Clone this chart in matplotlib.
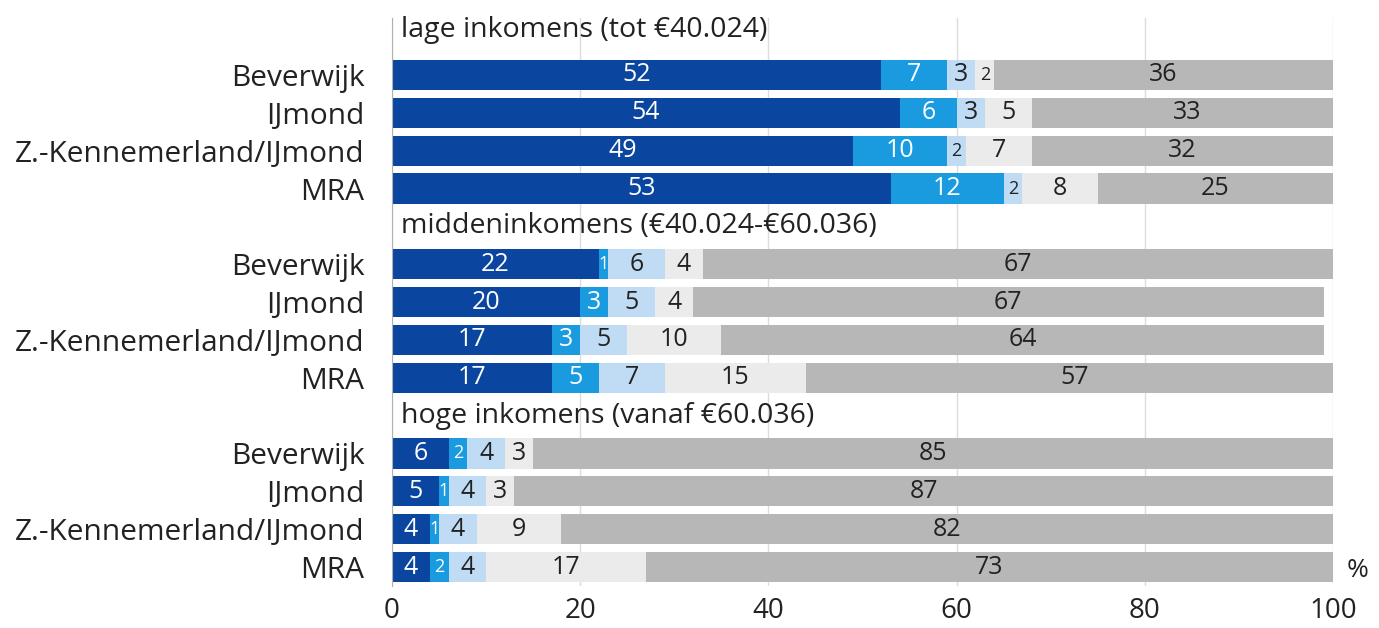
import matplotlib.pyplot as plt
import numpy as np

plt.rcParams['font.family'] = ['Open Sans', 'DejaVu Sans']

# income groups and regions
groepen = ["lage inkomens (tot €40.024)",
           "middeninkomens (€40.024-€60.036)",
           "hoge inkomens (vanaf €60.036)"]
regios = ["Beverwijk", "IJmond", "Z.-Kennemerland/IJmond", "MRA"]

# shares per segment (%), rows: Beverwijk, IJmond, Z.-Kennemerland/IJmond, MRA
seg1 = [[52, 54, 49, 53], [22, 20, 17, 17], [6, 5, 4, 4]]
seg2 = [[7, 6, 10, 12], [1, 3, 3, 5], [2, 1, 1, 2]]
seg3 = [[3, 3, 2, 2], [6, 5, 5, 7], [4, 4, 4, 4]]
seg4 = [[2, 5, 7, 8], [4, 4, 10, 15], [3, 3, 9, 17]]
seg5 = [[36, 33, 32, 25], [67, 67, 64, 57], [85, 87, 82, 73]]

kleuren = ["#0a46a0", "#1a9be0", "#bfdcf4", "#ebebeb", "#b7b7b7"]
tekstkleur = ["white", "white", "#222222", "#222222", "#222222"]
segmenten = [seg1, seg2, seg3, seg4, seg5]

fig = plt.figure(figsize=(13.79, 6.28), dpi=100)
ax = fig.add_axes([0.2843, 0.067, 0.6823, 0.904])

ylabels = []
ypos = []
kop_pos = []
slot = 0
for g, groep in enumerate(groepen):
    kop_pos.append(slot)
    slot += 1
    for r, regio in enumerate(regios):
        links = 0
        for s, seg in enumerate(segmenten):
            w = seg[g][r]
            ax.barh(slot, w, left=links, height=0.8, color=kleuren[s],
                    edgecolor="none", zorder=2)
            ax.text(links + w / 2, slot, str(w), ha="center", va="center",
                    color=tekstkleur[s], fontsize=18 if w >= 3 else 13, zorder=3)
            links += w
        ylabels.append(regio)
        ypos.append(slot)
        slot += 1

for i, (k, groep) in enumerate(zip(kop_pos, groepen)):
    ax.text(0.9, k - (0.2 if i == 0 else 0.0), groep, ha="left", va="center",
            fontsize=20.5, color="#222222")

ax.set_xlim(0, 100)
ax.set_ylim(slot - 0.5, -0.5)
ax.set_yticks(ypos)
ax.set_yticklabels(ylabels, fontsize=21.5, color="#222222")
ax.set_xticks([0, 20, 40, 60, 80, 100])
ax.set_xticklabels(["0", "20", "40", "60", "80", "100"], fontsize=20,
                   color="#222222")
ax.tick_params(length=0)
ax.tick_params(axis="y", pad=20)
ax.tick_params(axis="x", pad=8)
ax.xaxis.grid(True, color="#dcdcdc", linewidth=1, zorder=0)
ax.set_axisbelow(True)
for side in ["top", "right", "bottom"]:
    ax.spines[side].set_visible(False)
ax.spines["left"].set_color("#b0b0b0")
ax.text(101.5, ypos[-1] + 0.1, "%", ha="left", va="center", fontsize=19,
        color="#222222")

fig.savefig("out.png", dpi=100, facecolor="white")
